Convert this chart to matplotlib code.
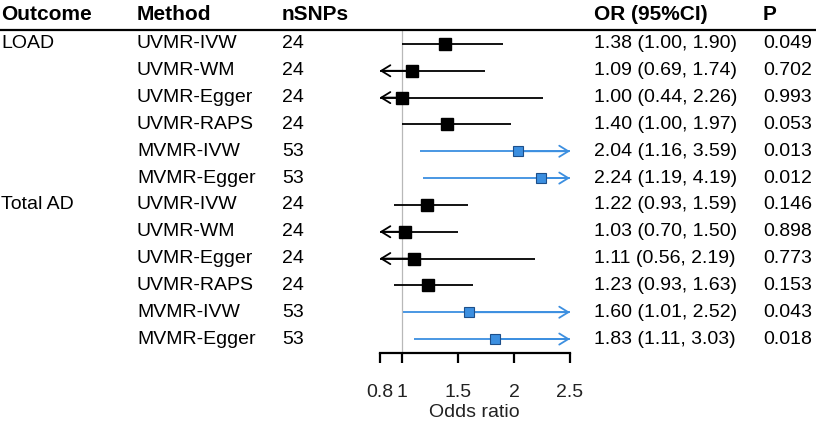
import numpy as np
import matplotlib
matplotlib.use("Agg")
import matplotlib.pyplot as plt
from matplotlib.lines import Line2D
from matplotlib.transforms import blended_transform_factory

plt.rcParams['font.family'] = ['Liberation Sans', 'DejaVu Sans']

outcomes = ["LOAD", "", "", "", "", "", "Total AD", "", "", "", "", ""]
methods = ["UVMR-IVW", "UVMR-WM", "UVMR-Egger", "UVMR-RAPS", "MVMR-IVW", "MVMR-Egger",
           "UVMR-IVW", "UVMR-WM", "UVMR-Egger", "UVMR-RAPS", "MVMR-IVW", "MVMR-Egger"]
nsnps = [24, 24, 24, 24, 53, 53, 24, 24, 24, 24, 53, 53]
odds = [1.38, 1.09, 1.00, 1.40, 2.04, 2.24, 1.22, 1.03, 1.11, 1.23, 1.60, 1.83]
ci_low = [1.00, 0.69, 0.44, 1.00, 1.16, 1.19, 0.93, 0.70, 0.56, 0.93, 1.01, 1.11]
ci_high = [1.90, 1.74, 2.26, 1.97, 3.59, 4.19, 1.59, 1.50, 2.19, 1.63, 2.52, 3.03]
pvals = ["0.049", "0.702", "0.993", "0.053", "0.013", "0.012",
         "0.146", "0.898", "0.773", "0.153", "0.043", "0.018"]
is_mvmr = [m.startswith("MVMR") for m in methods]

W, H = 816, 426
FS = 14
fig = plt.figure(figsize=(W / 100, H / 100), dpi=100)

# forest panel: x 0.8 -> 2.5 spans px 379.6 -> 570, rows from y=30 to y=353
x0, x1 = 379.6, 570
ytop, ybot = 30, 353
ax = fig.add_axes([x0 / W, 1 - ybot / H, (x1 - x0) / W, (ybot - ytop) / H])
n = len(methods)
ax.set_xlim(0.8, 2.5)
ax.set_ylim(n - 1 + 0.52, -0.52)

blue = '#3c8fe0'
xmin, xmax = 0.8, 2.5
ax.axvline(1, color='#b8b8b8', lw=0.9, zorder=0)
for i in range(n):
    col = blue if is_mvmr[i] else 'black'
    lo = max(ci_low[i], xmin)
    hi = min(ci_high[i], xmax)
    ax.plot([lo, hi], [i, i], color=col, lw=1.3, solid_capstyle='butt', zorder=2)
    if ci_low[i] < xmin:
        ax.annotate('', xy=(xmin, i), xytext=(odds[i], i),
                    arrowprops=dict(arrowstyle='->,head_length=0.65,head_width=0.4',
                                    color=col, lw=1.3, shrinkA=0, shrinkB=0))
    if ci_high[i] > xmax:
        ax.annotate('', xy=(xmax, i), xytext=(odds[i], i),
                    arrowprops=dict(arrowstyle='->,head_length=0.65,head_width=0.4',
                                    color=col, lw=1.3, shrinkA=0, shrinkB=0))
    if is_mvmr[i]:
        ax.plot(odds[i], i, marker='s', ms=7.5, mfc=blue, mec='#1d4f8a', mew=0.8, zorder=3)
    else:
        ax.plot(odds[i], i, marker='s', ms=8, mfc='black', mec='black', zorder=3)

for s in ['top', 'right', 'left']:
    ax.spines[s].set_visible(False)
ax.spines['bottom'].set_linewidth(1.6)
ax.spines['bottom'].set_bounds(0.8, 2.5)
ax.set_yticks([])
ax.set_xticks([0.8, 1, 1.5, 2, 2.5])
ax.set_xticklabels(["0.8", "1", "1.5", "2", "2.5"])
ax.tick_params(axis='x', direction='out', length=7.5, width=1.6, labelsize=FS, pad=15,
               colors='black', labelcolor='#222222')
ax.set_xlabel("Odds ratio", fontsize=FS, labelpad=2, color='#222222')
ax.patch.set_alpha(0)

# text columns (x in figure pixels, y in row units)
tr = blended_transform_factory(fig.transFigure, ax.transData)
cols = {"Outcome": 1, "Method": 137, "nSNPs": 282, "OR (95%CI)": 594, "P": 763}
for i in range(n):
    ax.text(cols["Outcome"] / W, i, outcomes[i], transform=tr, fontsize=FS, va='center', ha='left')
    ax.text(cols["Method"] / W, i, methods[i], transform=tr, fontsize=FS, va='center', ha='left')
    ax.text(cols["nSNPs"] / W, i, str(nsnps[i]), transform=tr, fontsize=FS, va='center', ha='left')
    ax.text(cols["OR (95%CI)"] / W, i, f"{odds[i]:.2f} ({ci_low[i]:.2f}, {ci_high[i]:.2f})",
            transform=tr, fontsize=FS, va='center', ha='left')
    ax.text(cols["P"] / W, i, pvals[i], transform=tr, fontsize=FS, va='center', ha='left')

for name, xp in cols.items():
    fig.text(xp / W, 1 - 14 / H, name, fontsize=15, fontweight='bold', va='center', ha='left')

fig.add_artist(Line2D([0, 1], [1 - 30 / H, 1 - 30 / H], transform=fig.transFigure,
                      color='black', lw=1.6))

fig.savefig("out.png", dpi=100)
